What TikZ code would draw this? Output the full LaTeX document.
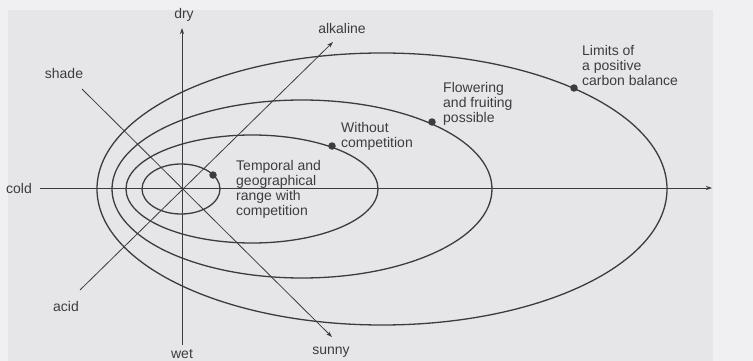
\documentclass[tikz,border=0pt]{standalone}
\usepackage{fontspec}
\setmainfont{Liberation Sans}
\usetikzlibrary{arrows.meta}
\definecolor{paper}{RGB}{240,240,243}
\definecolor{scan}{RGB}{230,230,233}
\definecolor{ink}{RGB}{60,60,62}

\begin{document}
\begin{tikzpicture}[x=1pt, y=-1pt, font=\fontsize{14}{15}\selectfont,
        axis/.style = {draw=ink, line width=0.8pt},
        ring/.style = {draw=ink, line width=1.3pt},
        dot/.style = {circle, fill=ink, inner sep=0pt, minimum size=7.5pt},
        lbl/.style = {text=ink, inner sep=0pt},
        note/.style = {text=ink, inner sep=0pt, align=left, anchor=north west},
        tip/.style = {-{Stealth[length=6pt, width=4pt]}}]
        \fill[paper] (0,0) rectangle (753,361);
        \fill[scan] (8,10) rectangle (713,361);
        \useasboundingbox (0,0) rectangle (753,361);

        % axes
        \coordinate (cold) at (40,188);
        \coordinate (warm) at (712,188);
        \coordinate (wetend) at (182,345);
        \coordinate (dryend) at (182,28);
        \coordinate (acidend) at (80,290);
        \coordinate (alkend) at (333,42);
        \coordinate (shadeend) at (82,89);
        \coordinate (sunend) at (332,337);

        \draw[axis, tip] (cold) -- (warm);
        \draw[axis, tip] (wetend) -- (dryend);
        \draw[axis, tip] (acidend) -- (alkend);
        \draw[axis, tip] (shadeend) -- (sunend);

        \node[lbl, anchor=west] (coldlbl) at (6,188) {cold};
        \node[lbl] (drylbl) at (184,15) {dry};
        \node[lbl] (wetlbl) at (182,354) {wet};
        \node[lbl] (alklbl) at (342,28) {alkaline};
        \node[lbl] (shadelbl) at (64,73) {shade};
        \node[lbl] (acidlbl) at (66,306) {acid};
        \node[lbl] (sunlbl) at (331,352) {sunny};

        % ranges
        \draw[ring] (181,189) ellipse [x radius=39, y radius=25];
        \draw[ring] (252,189) ellipse [x radius=126, y radius=54];
        \draw[ring] (302,189) ellipse [x radius=190, y radius=89];
        \draw[ring] (382,189) ellipse [x radius=285, y radius=136];

        \node[dot] (d1) at (213,175) {};
        \node[dot] (d2) at (332,146) {};
        \node[dot] (d3) at (432,122) {};
        \node[dot] (d4) at (574,88) {};

        \node[note] (n1) at (236,160) {Temporal and\\geographical\\range with\\competition};
        \node[note] (n2) at (341,122) {Without\\competition};
        \node[note] (n3) at (443,82) {Flowering\\and fruiting\\possible};
        \node[note] (n4) at (582,45) {Limits of\\a positive\\carbon balance};

    \end{tikzpicture}
\end{document}
